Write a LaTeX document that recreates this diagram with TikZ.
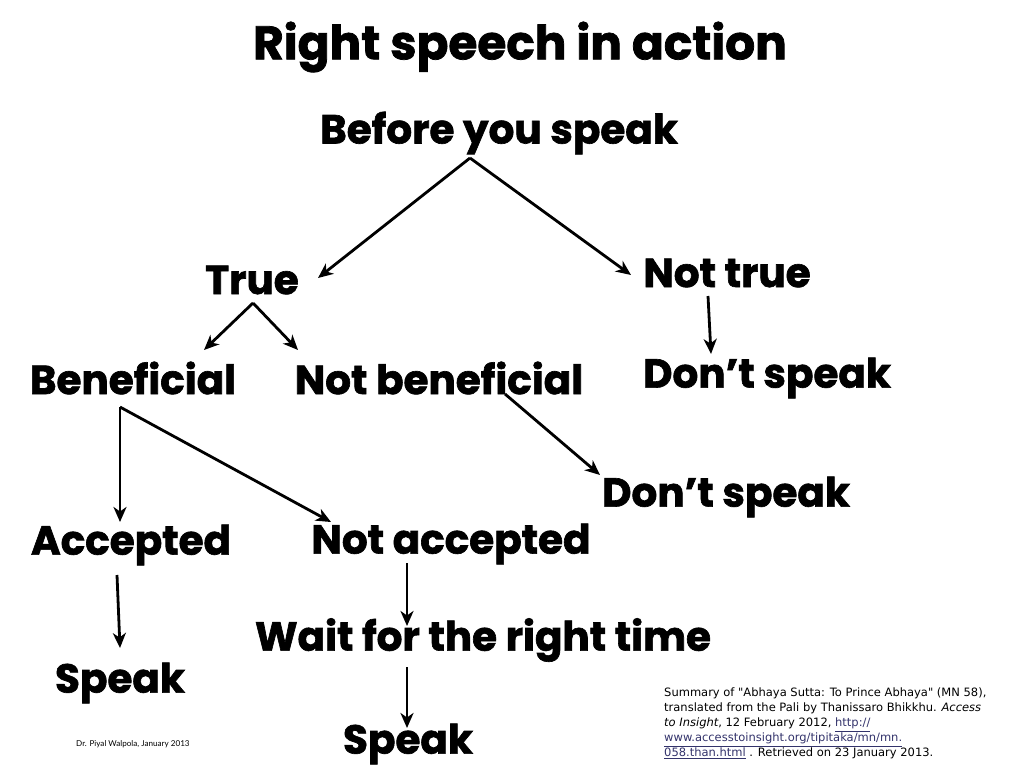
\documentclass[tikz,border=0pt]{standalone}
\usepackage{fontspec}
\setmainfont{Lato}
\newfontfamily\heavy{Poppins}[Ligatures=CommonOff, BoldFeatures={FakeBold=1.6}]
\newfontfamily\verd{DejaVu Sans}
\usetikzlibrary{arrows.meta}
\definecolor{linkc}{rgb}{0.2,0.2,0.42}
\begin{document}
\begin{tikzpicture}[x=1pt,y=-1pt,
  lbl/.style={inner sep=0pt, font=\heavy\bfseries\fontsize{40.5}{42}\selectfont, anchor=center, yshift=-3pt},
  ttl/.style={inner sep=0pt, font=\heavy\bfseries\fontsize{47}{48}\selectfont, anchor=center, yshift=-3pt},
  arr/.style={line width=2.8pt, -{Stealth[length=15pt,width=13pt,inset=4.5pt]}}]
\useasboundingbox (0,0) rectangle (1024,768);
\node[ttl] (title) at (520,44) {Right speech in action};
\node[lbl] (before) at (499,130) {Before you speak};
\node[lbl] (true) at (252,277) {True};
\node[lbl] (nottrue) at (727,270) {Not true};
\node[lbl] (ben) at (133,375) {Beneficial};
\node[lbl] (notben) at (439,375) {Not beneficial};
\node[lbl] (dont1) at (767,375) {Don’t speak};
\node[lbl] (dont2) at (726,494) {Don’t speak};
\node[lbl] (acc) at (131,542) {Accepted};
\node[lbl] (notacc) at (451,541) {Not accepted};
\node[lbl] (wait) at (483,637) {Wait for the right time};
\node[lbl] (speak1) at (120,680) {Speak};
\node[lbl] (speak2) at (408,741) {Speak};
% connector points
\coordinate (a0) at (470,158);
\coordinate (a1) at (318,278);
\coordinate (a2) at (631,275);
\coordinate (b0) at (708,296);
\coordinate (b1) at (711,354);
\coordinate (c0) at (253,303);
\coordinate (c1) at (204,350);
\coordinate (c2) at (298,350);
\coordinate (d0) at (505,394);
\coordinate (d1) at (600,475);
\coordinate (e0) at (120,407);
\coordinate (e1) at (120,522);
\coordinate (e2) at (331,522);
\coordinate (f0) at (117,575);
\coordinate (f1) at (120,648);
\coordinate (g0) at (407,563);
\coordinate (g1) at (407,626);
\coordinate (h0) at (407,667);
\coordinate (h1) at (407,728);
\draw[arr] (a0) -- (a1);
\draw[arr] (a0) -- (a2);
\draw[arr] (b0) -- (b1);
\draw[arr] (c0) -- (c1);
\draw[arr] (c0) -- (c2);
\draw[arr] (d0) -- (d1);
\draw[arr] (e0) -- (e1);
\draw[arr] (e0) -- (e2);
\draw[arr] (f0) -- (f1);
\draw[arr] (g0) -- (g1);
\draw[arr] (h0) -- (h1);
\node[inner sep=0pt, anchor=north west, align=left, font=\verd\fontsize{11.5}{15}\selectfont] (note) at (664,688)
 {Summary of "Abhaya Sutta: To Prince Abhaya" (MN 58),\\
  translated from the Pali by Thanissaro Bhikkhu. \textit{Access}\\
  \textit{to Insight}, 12 February 2012, \textcolor{linkc}{\underline{http://}}\\
  \textcolor{linkc}{\underline{www.accesstoinsight.org/tipitaka/mn/mn.}}\\
  \textcolor{linkc}{\underline{058.than.html}} . Retrieved on 23 January 2013.};
\node[inner sep=0pt, anchor=west, font=\fontsize{8.1}{9}\selectfont] (author) at (76,744) {Dr. Piyal Walpola, January 2013};
\end{tikzpicture}
\end{document}
